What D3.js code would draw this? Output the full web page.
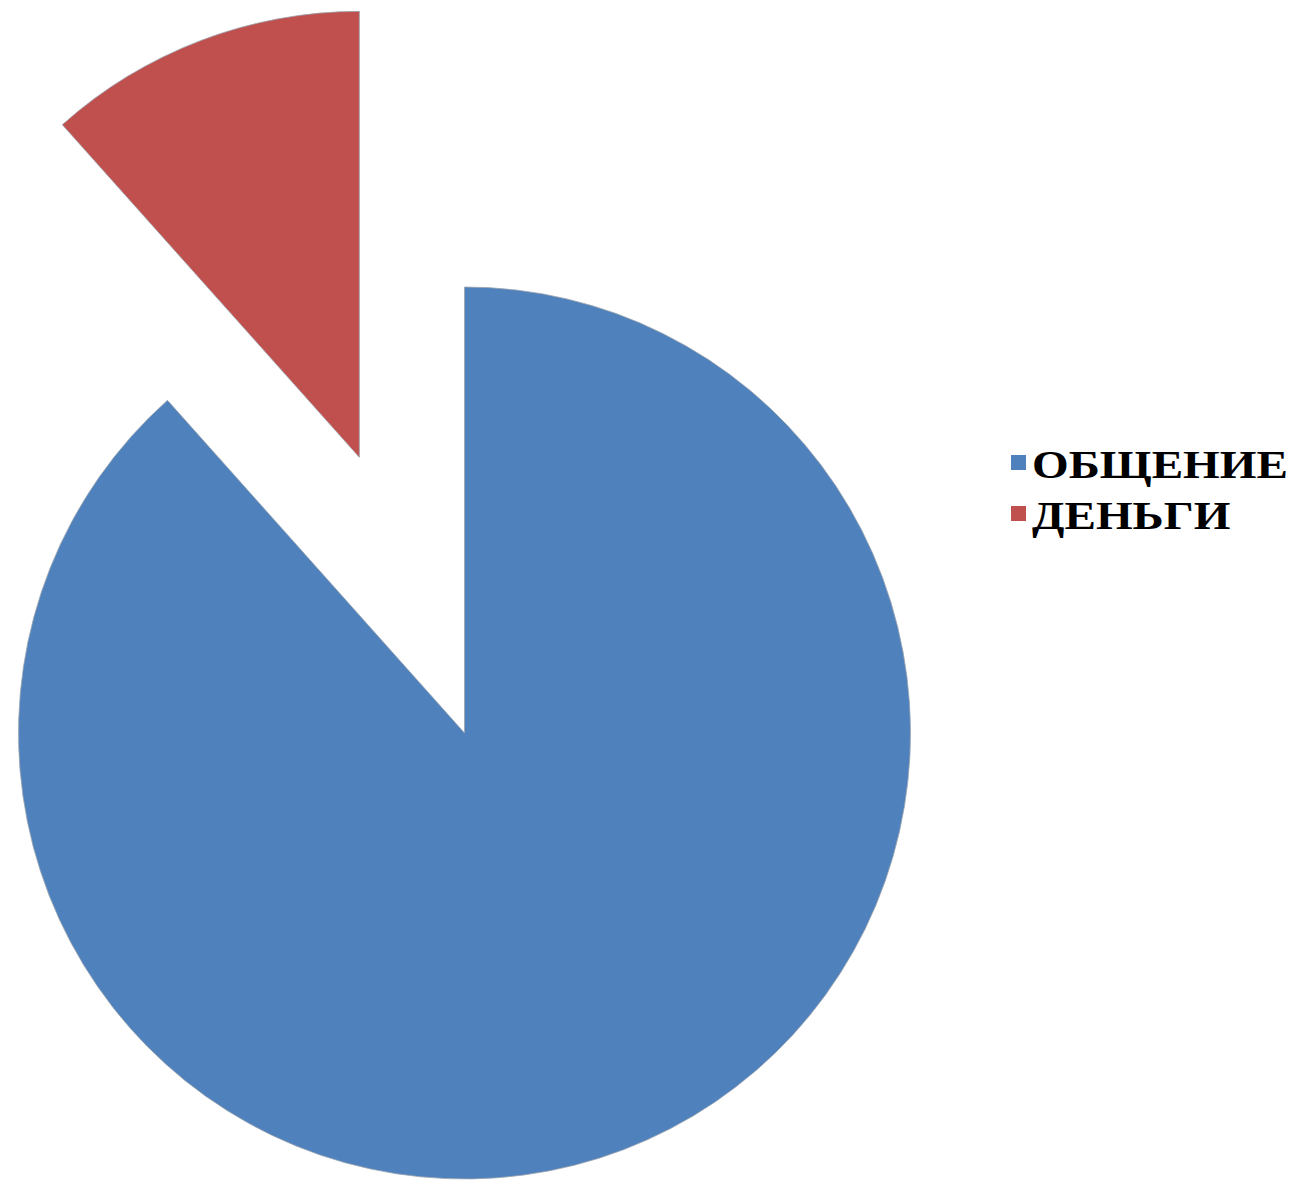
<!DOCTYPE html>
<html><head><meta charset="utf-8">
<script src="https://cdn.jsdelivr.net/npm/d3@7"></script>
<style>html,body{margin:0;padding:0;background:#fff;}</style>
</head><body>
<svg id="chart" width="1311" height="1184"></svg>
<script>
const categories = ["ОБЩЕНИЕ", "ДЕНЬГИ"];
const values = [88.4, 11.6];
const colors = ["#4F81BD", "#C0504D"];
const explode = [0, 295];

const svg = d3.select("#chart");
const cx = 464.5, cy = 733, R = 446;
const pie = d3.pie().sort(null).value(d => d.v);
const arc = d3.arc().innerRadius(0).outerRadius(R);
const data = pie(categories.map((c, i) => ({c, v: values[i], i})));

const g = svg.append("g").attr("transform", `translate(${cx},${cy})`);
g.selectAll("path").data(data).enter().append("path")
  .attr("d", arc)
  .attr("fill", d => colors[d.data.i])
  .attr("stroke", "#9aa3ad")
  .attr("stroke-width", 0.8)
  .attr("transform", d => {
    const m = (d.startAngle + d.endAngle) / 2;
    const e = explode[d.data.i];
    return `translate(${Math.sin(m) * e},${-Math.cos(m) * e})`;
  });

const leg = svg.append("g").attr("transform", "translate(1011,455)");
const items = leg.selectAll("g").data(categories).enter().append("g")
  .attr("transform", (d, i) => `translate(0,${i * 51})`);
items.append("rect").attr("width", 15).attr("height", 15)
  .attr("fill", (d, i) => colors[i]);
items.append("text")
  .attr("transform", "translate(21,23) scale(1.21,1)")
  .attr("font-family", "'Liberation Serif','Times New Roman',serif")
  .attr("font-weight", "bold").attr("font-size", 39)
  .attr("fill", "#000")
  .text(d => d);
</script>
</body></html>
